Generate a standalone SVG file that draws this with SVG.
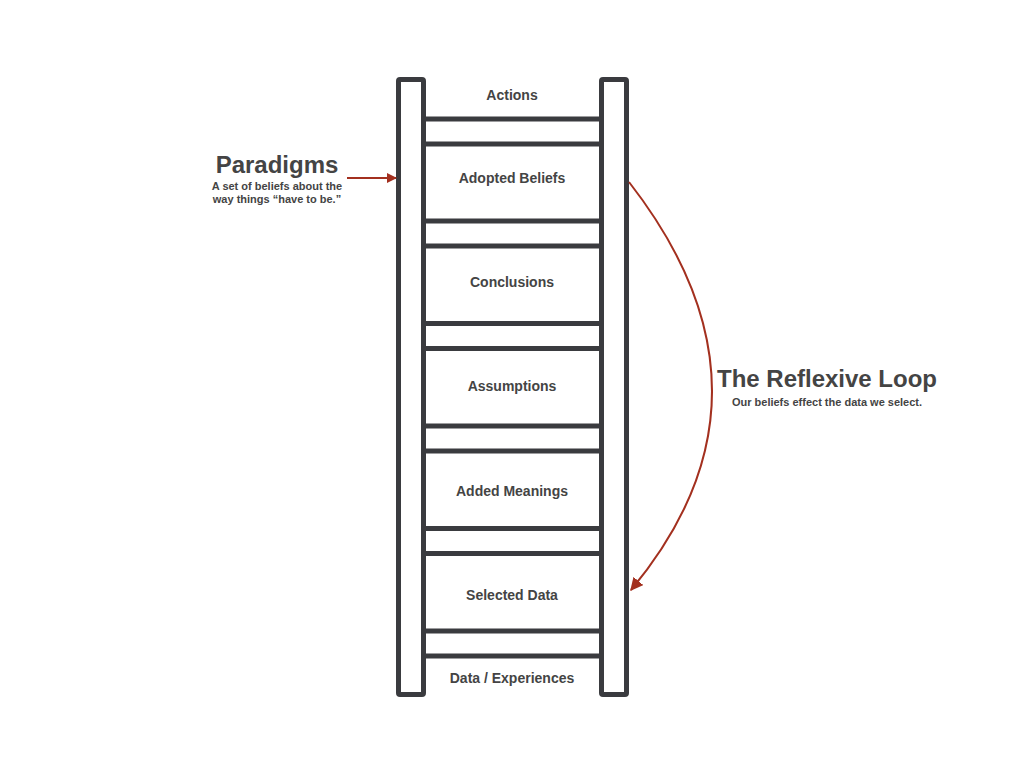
<svg xmlns="http://www.w3.org/2000/svg" width="1024" height="768" viewBox="0 0 1024 768">
<style>
.rail{fill:none;stroke:#3a3b3f;stroke-width:5;}
.rung{stroke:#3a3b3f;stroke-width:5;}
.lbl{font-family:"Liberation Sans",Arial,sans-serif;font-weight:bold;font-size:14px;fill:#444;text-anchor:middle;}
.title{font-family:"Liberation Sans",Arial,sans-serif;font-weight:bold;font-size:24px;fill:#444;text-anchor:middle;}
.sub{font-family:"Liberation Sans",Arial,sans-serif;font-weight:bold;font-size:11px;fill:#444;text-anchor:middle;}
.conn{fill:none;stroke:#a3301f;stroke-width:2;}
</style>
<defs>
<marker id="ah" viewBox="0 0 10 10" refX="9" refY="5" markerWidth="10" markerHeight="10" orient="auto" markerUnits="userSpaceOnUse">
<path d="M0,0 L10,5 L0,10 z" fill="#a3301f"/>
</marker>
<marker id="ah2" viewBox="0 0 10 10" refX="9" refY="5" markerWidth="13" markerHeight="13" orient="auto" markerUnits="userSpaceOnUse">
<path d="M0,0 L10,5 L0,10 z" fill="#a3301f"/>
</marker>
</defs>
<rect width="1024" height="768" fill="#fff"/>
<g id="ladder">
<rect class="rail" x="398.5" y="79.5" width="25" height="615" rx="1.5"/>
<rect class="rail" x="601.5" y="79.5" width="25" height="615" rx="1.5"/>
<line class="rung" x1="424" y1="119" x2="601" y2="119"/>
<line class="rung" x1="424" y1="144" x2="601" y2="144"/>
<line class="rung" x1="424" y1="221" x2="601" y2="221"/>
<line class="rung" x1="424" y1="246" x2="601" y2="246"/>
<line class="rung" x1="424" y1="323.5" x2="601" y2="323.5"/>
<line class="rung" x1="424" y1="348.5" x2="601" y2="348.5"/>
<line class="rung" x1="424" y1="426" x2="601" y2="426"/>
<line class="rung" x1="424" y1="451" x2="601" y2="451"/>
<line class="rung" x1="424" y1="528.5" x2="601" y2="528.5"/>
<line class="rung" x1="424" y1="553.5" x2="601" y2="553.5"/>
<line class="rung" x1="424" y1="631" x2="601" y2="631"/>
<line class="rung" x1="424" y1="656" x2="601" y2="656"/>
</g>
<g id="actions"><text class="lbl" x="512" y="100">Actions</text></g>
<g id="adopted-beliefs"><text class="lbl" x="512" y="183">Adopted Beliefs</text></g>
<g id="conclusions"><text class="lbl" x="512" y="287">Conclusions</text></g>
<g id="assumptions"><text class="lbl" x="512" y="391">Assumptions</text></g>
<g id="added-meanings"><text class="lbl" x="512" y="496">Added Meanings</text></g>
<g id="selected-data"><text class="lbl" x="512" y="600">Selected Data</text></g>
<g id="data-experiences"><text class="lbl" x="512" y="683">Data / Experiences</text></g>
<g id="paradigms">
<text class="title" x="277" y="173">Paradigms</text>
<text class="sub" x="277" y="190">A set of beliefs about the</text>
<text class="sub" x="277" y="203">way things “have to be.”</text>
</g>
<g id="reflexive-loop">
<text class="title" x="827" y="387">The Reflexive Loop</text>
<text class="sub" x="827" y="406">Our beliefs effect the data we select.</text>
</g>
<g id="connectors">
<line class="conn" x1="347" y1="178" x2="396" y2="178" marker-end="url(#ah)"/>
<path class="conn" d="M629,182 Q794,394 631,590" marker-end="url(#ah2)"/>
</g>
</svg>
